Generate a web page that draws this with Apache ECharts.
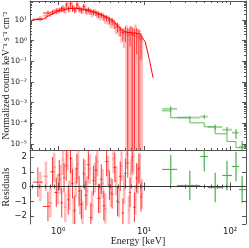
<!DOCTYPE html>
<html><head><meta charset="utf-8">
<script src="https://cdn.jsdelivr.net/npm/echarts@6/dist/echarts.min.js"></script>
<style>html,body{margin:0;padding:0;background:#fff}#c{width:249px;height:248px}</style>
</head><body><div id="c"></div>
<script>
// ---- data ----
// red spectrum, instrument A (darker)
const redAE = [0.58,0.76,0.86,0.95,1.03,1.1,1.17,1.24,1.31,1.39,1.47,1.56,1.65,1.75,1.86,1.98,2.1,2.24,2.4,2.57,2.75,2.95,3.17,3.4,3.66,3.94,4.24,4.56,4.9,5.27,5.66,6.05,6.45,6.85,7.25,7.7,8.2,8.7,9.2];
const redAV = [11,22,24,28,30,36,33,52,34,60,38,30,55,35,30,45,28,32,26,24,22,19,18,14,13,10,9,6.5,5,3.2,2.4,2.8,1.9,2.6,2.0,1.7,2.2,1.5,1.2];
const redARel = [0.12,0.3,0.25,0.3,0.25,0.3,0.3,0.35,0.3,0.4,0.35,0.3,0.35,0.3,0.3,0.35,0.3,0.3,0.3,0.3,0.3,0.35,0.3,0.35,0.35,0.4,0.4,0.45,0.5,0.5,0.6,0.7,1.1,0.8,1.2,1.1,0.9,1.3,0.9];
const redARes = [0.3,-1.35,1.0,-0.4,0.8,-1.1,0.6,1.4,-0.9,1.9,0.2,-1.6,1.2,-0.3,-1.2,0.9,-0.6,1.5,-2.1,0.4,1.1,-0.8,0.5,-1.3,1.7,0.1,-0.5,1.3,-1.0,0.7,-1.8,0.9,1.6,-0.4,2.0,-1.4,0.6,1.2,-0.7];
// red spectrum, instrument B (pale)
const redBE = [0.62,0.72,0.81,0.9,0.99,1.07,1.14,1.21,1.28,1.35,1.43,1.51,1.6,1.7,1.8,1.92,2.04,2.17,2.32,2.48,2.66,2.85,3.06,3.29,3.53,3.8,4.09,4.4,4.73,5.08,5.46,5.86,6.25,6.65,7.05,7.45,7.9,8.4,8.9,9.4];
const redBV = [12,16,20,26,29,33,38,30,62,36,66,40,34,50,33,30,42,27,28,23,25,20,16,16,12,11,8,7.5,4.5,4,2.6,2.2,2.5,1.8,2.3,1.9,2.4,1.6,1.3,0.9];
const redBRel = [0.3,0.35,0.3,0.3,0.35,0.3,0.4,0.35,0.45,0.35,0.4,0.35,0.35,0.4,0.35,0.35,0.35,0.35,0.35,0.4,0.35,0.4,0.4,0.4,0.45,0.45,0.5,0.5,0.55,0.6,0.7,0.8,1.2,1.1,1.3,1.2,1.5,1.3,1.4,1.0];
const redBRes = [0.0,0.7,-1.1,1.3,-0.2,0.5,1.8,-1.4,2.1,-0.6,1.0,-1.7,0.3,1.5,-0.9,-2.0,0.8,-0.3,1.2,-1.3,0.6,1.7,-0.8,0.2,-1.5,1.1,-0.4,1.9,0.4,-1.1,1.4,-0.2,2.2,-1.6,0.9,1.8,-0.9,0.5,1.3,-0.5];
// red model
const redModelE = [0.5,0.67,0.8,1.0,1.3,1.6,2.0,2.5,3.0,3.5,4.0,4.5,5.0,5.5,6.0,7.0,8.0,9.0,10.3,11.5,12.7];
const redModelV = [10,11,17,27,35,37,33,26,20,15,11.5,8,5,3.3,2.6,2.4,2.3,2.0,0.87,0.12,0.016];
// green (hard X-ray) spectrum
const grnE  = [20.4,34,50,67,92,117,138];
const grnLo = [16.2,24.2,45,55,81,105,127];
const grnHi = [24.2,45,55,81,105,127,153];
const grnV  = [5.0e-4,1.9e-4,2.1e-4,6.6e-5,4.9e-5,3.5e-5,7.4e-6];
const grnRel = [0.3,0.15,0.2,0.3,0.35,0.5,0.9];
const grnModel = [4.0e-4,1.86e-4,1.05e-4,6.8e-5,3.1e-5,1.3e-5,6.6e-6];
const grnRes = [1.16,0.07,2.04,-0.07,0.75,1.36,-0.2];
const grnResErr = [1,1,1,1,1,1,0.9];
// axis ticks
const yTickExp = [1,0,-1,-2,-3,-4,-5];
const resTicks = [2,1,0,-1,-2];

// ---- helpers ----
function edges(E){
  const lo=[],hi=[];
  for(let i=0;i<E.length;i++){
    const l = i>0 ? Math.sqrt(E[i-1]*E[i]) : E[i]*E[i]/Math.sqrt(E[i]*E[i+1]);
    const h = i<E.length-1 ? Math.sqrt(E[i]*E[i+1]) : E[i]*E[i]/Math.sqrt(E[i-1]*E[i]);
    lo.push(l);hi.push(h);
  }
  return [lo,hi];
}
const FLOOR = 1e-9;
function upperData(E,V,Rel,lo,hi){
  return E.map((e,i)=>{const err=V[i]*Rel[i];return [e,V[i],lo[i],hi[i],Math.max(V[i]-err,FLOOR),V[i]+err];});
}
function resData(E,R,Err,lo,hi){
  return E.map((e,i)=>[e,R[i],lo[i],hi[i],R[i]-Err[i],R[i]+Err[i]]);
}
function errSeries(data,xi,yi,hColor,vColor,hW,vW,z){
  return {type:'custom',xAxisIndex:xi,yAxisIndex:yi,clip:true,z:z,silent:true,
    dimensions:['x','y','xlo','xhi','ylo','yhi'],
    encode:{x:[0,2,3],y:[1,4,5]},
    data:data,
    renderItem:function(params,api){
      const x=api.value(0),y=api.value(1);
      const a=api.coord([api.value(2),y]),b=api.coord([api.value(3),y]);
      const c=api.coord([x,api.value(4)]),d=api.coord([x,api.value(5)]);
      return {type:'group',children:[
        {type:'line',shape:{x1:a[0],y1:a[1],x2:b[0],y2:b[1]},style:{stroke:hColor,lineWidth:hW}},
        {type:'line',shape:{x1:c[0],y1:c[1],x2:d[0],y2:d[1]},style:{stroke:vColor,lineWidth:vW}}
      ]};
    }};
}
const [aLo,aHi]=edges(redAE);
const [bLo,bHi]=edges(redBE);
const greenStep=[[grnLo[0],grnModel[0]]];
for(let i=0;i<grnE.length;i++){
  greenStep.push([grnE[i],grnModel[i]]);
  if(i<grnE.length-1) greenStep.push([grnE[i],grnModel[i+1]]);
}
greenStep.push([grnHi[grnHi.length-1],grnModel[grnModel.length-1]]);

const SUP={'-':'⁻','0':'⁰','1':'¹','2':'²','3':'³','4':'⁴','5':'⁵','6':'⁶','7':'⁷','8':'⁸','9':'⁹'};
function sup(n){return String(n).split('').map(c=>SUP[c]).join('');}
function logLabel(v){
  const e=Math.round(Math.log10(v));
  if(Math.abs(Math.log10(v)-e)>1e-6) return '';
  return '10'+sup(e);
}
const AX='#555';
const tickFont={fontFamily:'DejaVu Sans',fontSize:7.5,color:'#222'};
const serif='Liberation Serif';
function xAx(grid,pos,labels,name){
  return {type:'log',logBase:10,gridIndex:grid,position:pos,min:0.47,max:153,
    axisLine:{show:true,lineStyle:{color:AX,width:1}},
    axisTick:{show:true,inside:true,length:4,lineStyle:{color:AX}},
    minorTick:{show:true,splitNumber:9,length:2,lineStyle:{color:AX}},
    splitLine:{show:false},minorSplitLine:{show:false},
    axisLabel:{show:labels,formatter:logLabel,margin:3,showMinLabel:false,showMaxLabel:false,...tickFont,fontSize:8.5},
    name:name||'',nameLocation:'middle',nameGap:12,nameMoveOverlap:false,
    nameTextStyle:{fontFamily:serif,fontSize:10,color:'#222'}};
}
function yLog(pos,labels,name){
  return {type:'log',logBase:10,gridIndex:0,position:pos,min:5.1e-6,max:83,
    axisLine:{show:true,lineStyle:{color:AX,width:1}},
    axisTick:{show:true,inside:true,length:4,lineStyle:{color:AX}},
    minorTick:{show:true,splitNumber:9,length:2,lineStyle:{color:AX}},
    splitLine:{show:false},minorSplitLine:{show:false},
    axisLabel:{show:labels,formatter:function(v){const s=logLabel(v);const e=Math.round(Math.log10(v));return yTickExp.indexOf(e)>=0?s:'';},margin:3,showMinLabel:false,showMaxLabel:false,...tickFont},
    name:name||'',nameLocation:'middle',nameGap:19,nameRotate:90,nameMoveOverlap:false,
    nameTextStyle:{fontFamily:serif,fontSize:9.5,color:'#222'}};
}
function yRes(pos,labels,name){
  return {type:'value',gridIndex:1,position:pos,min:-2.54,max:2.48,
    axisLine:{show:true,lineStyle:{color:AX,width:1}},
    axisTick:{show:true,inside:true,length:4,lineStyle:{color:AX}},
    splitLine:{show:false},
    axisLabel:{show:labels,margin:3,showMinLabel:false,showMaxLabel:false,
      formatter:function(v){return resTicks.indexOf(v)>=0?(v<0?'−'+(-v):String(v)):'';},...tickFont,fontSize:8.5},
    name:name||'',nameLocation:'middle',nameGap:19,nameRotate:90,nameMoveOverlap:false,
    nameTextStyle:{fontFamily:serif,fontSize:10,color:'#222'}};
}

const PALE='rgba(255,90,90,0.42)';
const RED='rgba(255,20,20,0.85)';
const option={
  animation:false,
  grid:[{left:30,right:3,top:1,height:149,containLabel:false,outerBoundsMode:'none'},
        {left:30,right:3,top:150,height:74,containLabel:false,outerBoundsMode:'none'}],
  xAxis:[xAx(0,'bottom',false),xAx(0,'top',false),xAx(1,'bottom',true,'Energy [keV]'),xAx(1,'top',false)],
  yAxis:[yLog('left',true,'Normalized counts keV⁻¹ s⁻¹ cm⁻²'),yLog('right',false),yRes('left',true,'Residuals'),yRes('right',false)],
  series:[
    errSeries(upperData(redBE,redBV,redBRel,bLo,bHi),0,0,PALE,PALE,1.5,2.5,2),
    errSeries(upperData(redAE,redAV,redARel,aLo,aHi),0,0,RED,RED,1,1,3),
    {type:'line',xAxisIndex:0,yAxisIndex:0,data:redModelE.map((e,i)=>[e,redModelV[i]]),showSymbol:false,symbol:'none',
      lineStyle:{color:'#ff0000',width:1},z:4,silent:true,clip:true},
    errSeries(upperData(grnE,grnV,grnRel,grnLo,grnHi),0,0,'rgba(90,180,90,0.55)','#3a9a3a',2,1,3),
    {type:'line',xAxisIndex:0,yAxisIndex:0,data:greenStep,showSymbol:false,symbol:'none',
      lineStyle:{color:'#5cb85c',width:1},z:4,silent:true,clip:true},
    errSeries(resData(redBE,redBRes,redBRes.map(()=>1),bLo,bHi),2,2,PALE,PALE,1.5,2.5,2),
    errSeries(resData(redAE,redARes,redARes.map(()=>1),aLo,aHi),2,2,RED,RED,1,1,3),
    Object.assign(errSeries(resData(grnE,grnRes,grnResErr,grnLo,grnHi),2,2,'#4caf4c','#4caf4c',1.2,1.2,3),
      {markLine:{silent:true,symbol:'none',label:{show:false},lineStyle:{color:'#333',width:1,type:'solid'},data:[{yAxis:0}]}})
  ]
};
const chart=echarts.init(document.getElementById('c'),null,{renderer:'canvas'});
chart.setOption(option);
</script></body></html>
